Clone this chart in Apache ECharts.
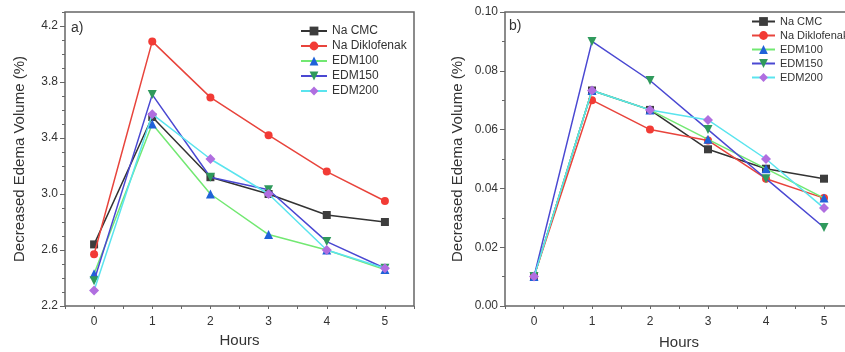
<!DOCTYPE html>
<html>
<head>
<meta charset="utf-8">
<script src="https://cdn.jsdelivr.net/npm/echarts@6/dist/echarts.min.js"></script>
<style>
  html, body { margin: 0; padding: 0; background: #fff; }
  #chart { width: 845px; height: 352px; }
</style>
</head>
<body>
<div id="chart"></div>
<script>
const hours = ["0", "1", "2", "3", "4", "5"];
// half-hour slots, only used to place the small ticks between the hours
const halfHourSlots = ["", "", "", "", "", "", "", "", "", "", "", ""];
const seriesNames = ["Na CMC", "Na Diklofenak", "EDM100", "EDM150", "EDM200"];

// panel a)
const aNaCmc = [2.64, 3.55, 3.12, 3.0, 2.85, 2.8];
const aNaDiklofenak = [2.57, 4.09, 3.69, 3.42, 3.16, 2.95];
const aEdm100 = [2.43, 3.5, 3.0, 2.71, 2.6, 2.46];
const aEdm150 = [2.38, 3.71, 3.12, 3.03, 2.66, 2.47];
const aEdm200 = [2.31, 3.57, 3.25, 3.0, 2.6, 2.47];

// panel b)
const bNaCmc = [0.01, 0.0733, 0.0667, 0.0533, 0.0467, 0.0433];
const bNaDiklofenak = [0.01, 0.07, 0.06, 0.0563, 0.0433, 0.0367];
const bEdm100 = [0.01, 0.0733, 0.0667, 0.0567, 0.0467, 0.0367];
const bEdm150 = [0.01, 0.09, 0.0767, 0.06, 0.0433, 0.0267];
const bEdm200 = [0.01, 0.0733, 0.0667, 0.0633, 0.05, 0.0333];

const font = "'Liberation Sans', Arial, sans-serif";
const axisColor = "#666";
const textColor = "#333";

const styles = [
  { line: "#333333", marker: "#3d3d3d", symbol: "rect", size: 8 },
  { line: "#e8443c", marker: "#f23b35", symbol: "circle", size: 8 },
  { line: "#72e872", marker: "#1f62d8", symbol: "triangle", size: 9 },
  { line: "#4a48d2", marker: "#2f9a5c", symbol: "path://M0,0 L10,0 L5,9 Z", size: 9 },
  { line: "#5ae4ee", marker: "#b06ee0", symbol: "diamond", size: 10 },
];

function makeSeries(values, axisIdx) {
  return values.map((data, i) => ({
    name: seriesNames[i],
    type: "line",
    xAxisIndex: axisIdx,
    yAxisIndex: axisIdx,
    data: data,
    symbol: styles[i].symbol,
    symbolSize: styles[i].size,
    showAllSymbol: true,
    lineStyle: { color: styles[i].line, width: 1.5 },
    itemStyle: { color: styles[i].marker },
    emphasis: { disabled: true },
    z: 2 + i,
  }));
}

// the frame comes from the grid border, so axis lines stay hidden
function categoryAxis(grid, gap) {
  return {
    type: "category",
    gridIndex: grid,
    position: "bottom",
    data: hours,
    boundaryGap: true,
    name: "Hours",
    nameLocation: "middle",
    nameGap: gap,
    nameTextStyle: { fontSize: 15, color: textColor, fontFamily: font },
    axisLine: { show: false, onZero: false },
    axisTick: { alignWithLabel: true, length: 5, lineStyle: { color: axisColor } },
    axisLabel: { fontSize: 12, color: textColor, fontFamily: font, margin: 10 },
    splitLine: { show: false },
  };
}

function minorXAxis(grid) {
  return {
    type: "category",
    gridIndex: grid,
    position: "bottom",
    data: halfHourSlots,
    boundaryGap: true,
    axisLine: { show: false, onZero: false },
    axisTick: { show: true, interval: 0, length: 3, lineStyle: { color: axisColor } },
    axisLabel: { show: false },
    splitLine: { show: false },
  };
}

function majorYAxis(grid, min, max, interval, digits, gap) {
  return {
    type: "value",
    gridIndex: grid,
    position: "left",
    min: min,
    max: max,
    interval: interval,
    name: "Decreased Edema Volume (%)",
    nameLocation: "middle",
    nameGap: gap,
    nameTextStyle: { fontSize: 15, color: textColor, fontFamily: font },
    axisLine: { show: false, onZero: false },
    axisTick: { show: true, length: 5, lineStyle: { color: axisColor } },
    axisLabel: {
      fontSize: 12, color: textColor, fontFamily: font, margin: 7,
      showMaxLabel: max === 0.1,
      formatter: (v) => v.toFixed(digits),
    },
    splitLine: { show: false },
  };
}

function minorYAxis(grid, min, max, interval) {
  return {
    type: "value",
    gridIndex: grid,
    position: "left",
    min: min,
    max: max,
    interval: interval,
    axisLine: { show: false, onZero: false },
    axisTick: { show: true, length: 3, lineStyle: { color: axisColor } },
    axisLabel: { show: false },
    splitLine: { show: false },
  };
}

function legendAt(left, top, size, width) {
  return {
    orient: "vertical",
    left: left,
    top: top,
    data: seriesNames,
    itemWidth: width,
    itemHeight: 11,
    itemGap: 3,
    textStyle: { fontSize: size, color: textColor, fontFamily: font },
    selectedMode: false,
  };
}

const chart = echarts.init(document.getElementById("chart"), null, { renderer: "canvas" });
chart.setOption({
  animation: false,
  backgroundColor: "#fff",
  textStyle: { fontFamily: font },
  grid: [
    { left: 65, top: 12, width: 349, bottom: 46, outerBoundsMode: "none", containLabel: false,
      show: true, borderColor: axisColor, borderWidth: 1.5 },
    { left: 505, top: 12, width: 348, bottom: 46, outerBoundsMode: "none", containLabel: false,
      show: true, borderColor: axisColor, borderWidth: 1.5 },
  ],
  xAxis: [categoryAxis(0, 27), minorXAxis(0), categoryAxis(1, 29), minorXAxis(1)],
  yAxis: [
    majorYAxis(0, 2.2, 4.3, 0.4, 1, 38),
    minorYAxis(0, 2.2, 4.3, 0.1),
    majorYAxis(1, 0, 0.1, 0.02, 2, 40),
    minorYAxis(1, 0, 0.1, 0.01),
  ],
  legend: [legendAt(295, 20, 12, 26), legendAt(746, 11, 11, 23)],
  graphic: [
    { type: "text", left: 71, top: 21, style: { text: "a)", fill: textColor, font: "14px " + font } },
    { type: "text", left: 509, top: 19, style: { text: "b)", fill: textColor, font: "14px " + font } },
  ],
  series: [
    ...makeSeries([aNaCmc, aNaDiklofenak, aEdm100, aEdm150, aEdm200], 0),
    ...makeSeries([bNaCmc, bNaDiklofenak, bEdm100, bEdm150, bEdm200], 2),
  ],
});
</script>
</body>
</html>
